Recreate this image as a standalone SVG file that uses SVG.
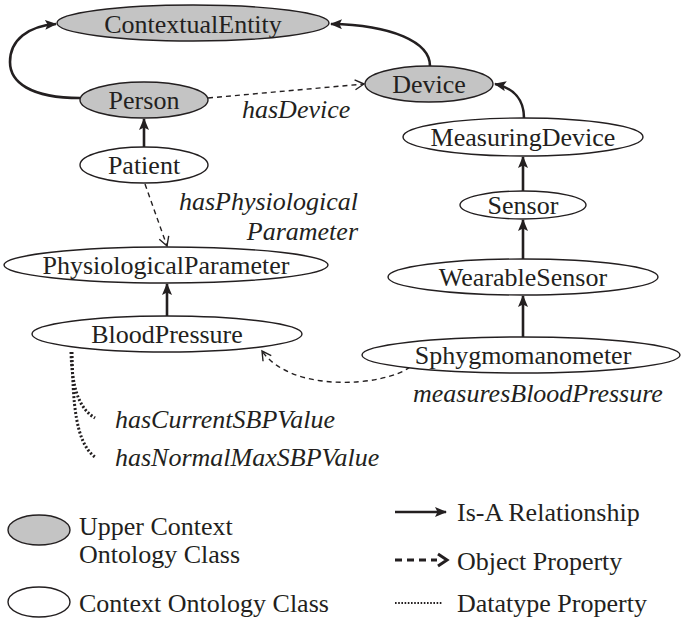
<svg xmlns="http://www.w3.org/2000/svg" width="681" height="623" viewBox="0 0 681 623">
  <style>
    text { font-family: "Liberation Serif", "DejaVu Serif", serif; font-size: 26px; fill: #231f20; }
    .lbl { text-anchor: middle; }
    .prop { font-style: italic; }
    .upper { fill: #c4c4c4; stroke: #231f20; stroke-width: 1.4; }
    .cls { fill: #ffffff; stroke: #231f20; stroke-width: 1.4; }
    .isa { fill: none; stroke: #231f20; stroke-width: 2.6; marker-end: url(#isaHead); }
    .obj { fill: none; stroke: #231f20; stroke-width: 1.4; stroke-dasharray: 5 4; marker-end: url(#objHead); }
    .dt { fill: none; stroke: #231f20; stroke-width: 3; stroke-dasharray: 2 2; }
  </style>
  <defs>
    <marker id="isaHead" markerUnits="userSpaceOnUse" markerWidth="12" markerHeight="10" refX="11" refY="5" orient="auto">
      <path d="M0,0 L12,5 L0,10 L2.5,5 z" fill="#231f20"/>
    </marker>
    <marker id="objHead" markerUnits="userSpaceOnUse" markerWidth="12" markerHeight="12" refX="10" refY="6" orient="auto">
      <path d="M1,1 L10,6 L1,11" fill="none" stroke="#231f20" stroke-width="1.4"/>
    </marker>
  </defs>

  <!-- connectors -->
  <g id="connectors">
    <path class="isa" d="M80,98 C30,98 10,82 10,62 C10,40 28,26 56,24"/>
    <path class="isa" d="M430,66 C430,42 392,25 331,24"/>
    <path class="isa" d="M524,118 C524,100 514,88 495,84"/>
    <path class="isa" d="M144,147 L144,119"/>
    <path class="isa" d="M523,191 L523,157"/>
    <path class="isa" d="M523,259 L523,220"/>
    <path class="isa" d="M523,337 L523,296"/>
    <path class="isa" d="M167,316 L167,284"/>
    <path class="obj" d="M208,98 L364,84"/>
    <path class="obj" d="M145,184 L167,246"/>
    <path class="obj" d="M410,367 C385,386 292,394 262,351"/>
    <path class="dt" d="M71,352 C72,386 78,408 95,418"/>
    <path class="dt" d="M72,352 C73,402 75,442 95,457"/>
  </g>

  <!-- property labels -->
  <g id="property-labels">
    <text class="prop" x="242" y="118">hasDevice</text>
    <text class="prop" x="358" y="210" text-anchor="end">hasPhysiological</text>
    <text class="prop" x="358" y="240" text-anchor="end">Parameter</text>
    <text class="prop" x="413" y="402">measuresBloodPressure</text>
    <text class="prop" x="115" y="428">hasCurrentSBPValue</text>
    <text class="prop" x="115" y="466">hasNormalMaxSBPValue</text>
  </g>

  <!-- class nodes -->
  <g id="ContextualEntity">
    <ellipse class="upper" cx="193" cy="23" rx="136" ry="18"/>
    <text class="lbl" x="193" y="33">ContextualEntity</text>
  </g>
  <g id="Person">
    <ellipse class="upper" cx="144" cy="100" rx="64" ry="18"/>
    <text class="lbl" x="144" y="109">Person</text>
  </g>
  <g id="Device">
    <ellipse class="upper" cx="429" cy="84" rx="64" ry="18"/>
    <text class="lbl" x="429" y="93">Device</text>
  </g>
  <g id="Patient">
    <ellipse class="cls" cx="144" cy="165" rx="64" ry="18"/>
    <text class="lbl" x="144" y="174">Patient</text>
  </g>
  <g id="MeasuringDevice">
    <ellipse class="cls" cx="523" cy="137" rx="120" ry="19"/>
    <text class="lbl" x="523" y="146">MeasuringDevice</text>
  </g>
  <g id="Sensor">
    <ellipse class="cls" cx="523" cy="205" rx="63" ry="14"/>
    <text class="lbl" x="523" y="214">Sensor</text>
  </g>
  <g id="PhysiologicalParameter">
    <ellipse class="cls" cx="166" cy="265" rx="162" ry="18"/>
    <text class="lbl" x="166" y="274">PhysiologicalParameter</text>
  </g>
  <g id="WearableSensor">
    <ellipse class="cls" cx="523" cy="277" rx="135" ry="18"/>
    <text class="lbl" x="523" y="286">WearableSensor</text>
  </g>
  <g id="BloodPressure">
    <ellipse class="cls" cx="167" cy="334" rx="135" ry="18"/>
    <text class="lbl" x="167" y="343">BloodPressure</text>
  </g>
  <g id="Sphygmomanometer">
    <ellipse class="cls" cx="521" cy="355" rx="159" ry="18"/>
    <text class="lbl" x="523" y="364">Sphygmomanometer</text>
  </g>

  <!-- legend -->
  <g id="legend">
    <ellipse class="upper" cx="39" cy="530" rx="31" ry="15"/>
    <text x="79" y="535">Upper Context</text>
    <text x="79" y="563">Ontology Class</text>
    <ellipse class="cls" cx="39" cy="602" rx="31" ry="15"/>
    <text x="79" y="612">Context Ontology Class</text>

    <path d="M395,512 L446,512" fill="none" stroke="#231f20" stroke-width="2.4" marker-end="url(#isaHead)"/>
    <text x="457" y="521">Is-A Relationship</text>
    <path d="M395,560 L437,560" fill="none" stroke="#231f20" stroke-width="3" stroke-dasharray="7 5"/>
    <path d="M438,554 L447,560 L438,566" fill="none" stroke="#231f20" stroke-width="3"/>
    <text x="457" y="570">Object Property</text>
    <path d="M395,603 L442,603" fill="none" stroke="#231f20" stroke-width="2" stroke-dasharray="1.6 1.6"/>
    <text x="457" y="612">Datatype Property</text>
  </g>
</svg>
